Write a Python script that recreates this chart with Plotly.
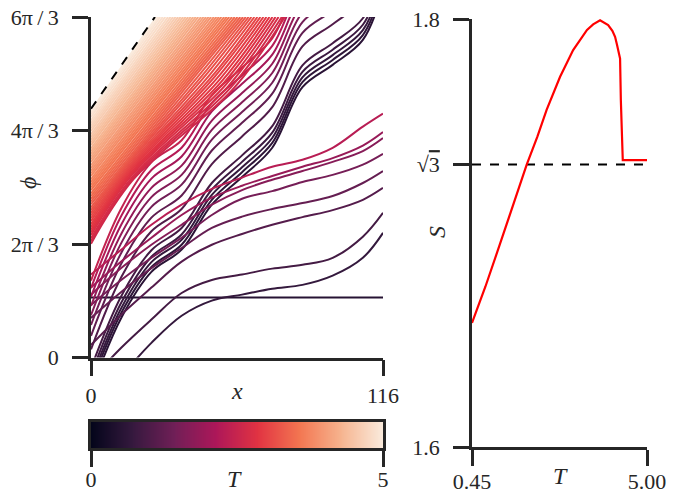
import numpy as np
import plotly.graph_objects as go
from plotly.colors import sample_colorscale

PI = np.pi
TWO_PI = 2 * PI

# ---------------- data ----------------
# seaborn "rocket" colormap stops
rocket = [[0.0, '#03051A'], [1/7, '#35193E'], [2/7, '#701F57'], [3/7, '#AD1759'],
          [4/7, '#E13342'], [5/7, '#F37651'], [6/7, '#F6B48F'], [1.0, '#FAEBDD']]
T_MIN, T_MAX = 0.0, 5.0

# shared x control grid for the curved trajectories
x_grid = [0, 12, 24, 36, 48, 60, 72, 84, 96, 108, 116]

# wavy trajectories that climb through the top of the panel
wavy_T = [0.55, 0.62, 0.70, 0.80, 0.90, 1.05, 1.25, 1.45, 1.65, 1.85, 2.05, 2.25, 2.45]
wavy_phi = [
    [-0.60, 0.73, 1.58, 1.99, 2.82, 3.33, 3.87, 4.99, 5.40, 5.86, 6.78],
    [-0.50, 0.82, 1.67, 2.08, 2.91, 3.42, 3.96, 5.08, 5.49, 5.95, 6.87],
    [-0.42, 0.91, 1.76, 2.17, 3.00, 3.51, 4.05, 5.17, 5.58, 6.04, 6.96],
    [-0.32, 1.01, 1.86, 2.27, 3.10, 3.61, 4.15, 5.27, 5.68, 6.14, 7.06],
    [-0.20, 1.13, 1.98, 2.39, 3.22, 3.73, 4.27, 5.39, 5.80, 6.26, 7.18],
    [0.15, 1.48, 2.33, 2.74, 3.57, 4.08, 4.62, 5.74, 6.15, 6.61, 7.53],
    [0.40, 1.73, 2.58, 2.99, 3.82, 4.33, 4.87, 5.99, 6.40, 6.86, 7.78],
    [0.60, 1.93, 2.78, 3.19, 4.02, 4.53, 5.07, 6.19, 6.60, 7.06, 7.98],
    [0.78, 2.11, 2.96, 3.37, 4.20, 4.71, 5.25, 6.37, 6.78, 7.24, 8.16],
    [0.95, 2.28, 3.13, 3.54, 4.37, 4.88, 5.42, 6.54, 6.95, 7.41, 8.33],
    [1.12, 2.45, 3.30, 3.71, 4.54, 5.05, 5.59, 6.71, 7.12, 7.58, 8.50],
    [1.28, 2.61, 3.46, 3.87, 4.70, 5.21, 5.75, 6.87, 7.28, 7.74, 8.66],
    [1.42, 2.75, 3.60, 4.01, 4.84, 5.35, 5.89, 7.01, 7.42, 7.88, 8.80],
]

# trajectories that level off and leave through the right edge
plateau_T = [0.70, 0.90, 1.10, 1.30, 1.50, 1.70, 1.90, 2.30]
plateau_phi = [
    [-0.95, -0.34, 0.27, 0.77, 1.05, 1.16, 1.27, 1.34, 1.51, 1.84, 2.30],
    [-0.41, 0.18, 0.70, 1.19, 1.43, 1.53, 1.64, 1.71, 1.84, 2.23, 2.67],
    [0.23, 0.79, 1.29, 1.77, 2.08, 2.28, 2.45, 2.59, 2.72, 2.91, 3.13],
    [0.73, 1.21, 1.65, 2.02, 2.39, 2.60, 2.74, 2.85, 2.98, 3.22, 3.44],
    [0.97, 1.43, 1.84, 2.21, 2.63, 2.93, 3.07, 3.24, 3.37, 3.56, 3.76],
    [1.16, 1.65, 2.08, 2.45, 2.82, 3.09, 3.28, 3.44, 3.61, 3.81, 4.05],
    [1.29, 1.77, 2.21, 2.63, 2.95, 3.17, 3.35, 3.52, 3.68, 3.91, 4.16],
    [1.53, 1.99, 2.45, 2.82, 3.11, 3.32, 3.52, 3.65, 3.87, 4.26, 4.50],
]

# constant trajectory
flat_T = 0.50
flat_phi = 1.107

# lower part of the dense fan: gently wavy (start, two knees, exit at the top)
lowband_T = [2.60, 2.65, 2.70, 2.75, 2.80, 2.85, 2.90, 2.95, 3.00, 3.05, 3.10, 3.15, 3.20, 3.25]
lowband_phi0 = [2.10, 2.15, 2.20, 2.26, 2.31, 2.36, 2.41, 2.46, 2.52, 2.57, 2.62, 2.67, 2.72, 2.77]
lowband_k1x = [16.9, 16.7, 16.4, 16.1, 15.9, 15.6, 15.3, 15.1, 14.8, 14.5, 14.3, 14.0, 13.8, 13.5]
lowband_k1phi = [3.29, 3.31, 3.33, 3.36, 3.38, 3.40, 3.42, 3.44, 3.46, 3.48, 3.50, 3.52, 3.54, 3.56]
lowband_k2x = [56.2, 55.3, 54.4, 53.5, 52.6, 51.8, 50.9, 50.0, 49.1, 48.3, 47.4, 46.5, 45.7, 44.9]
lowband_k2phi = [4.94, 4.97, 5.00, 5.03, 5.06, 5.09, 5.12, 5.15, 5.18, 5.20, 5.23, 5.26, 5.29, 5.32]
lowband_xtop = [77.0, 75.8, 74.5, 73.3, 72.1, 70.9, 69.7, 68.5, 67.3, 66.1, 64.9, 63.7, 62.6, 61.5]

# upper part of the dense fan: nearly straight
band_T = [3.30, 3.35, 3.40, 3.45, 3.50, 3.55,
          3.60, 3.65, 3.70, 3.75, 3.80, 3.85, 3.90, 3.95, 4.00, 4.05,
          4.10, 4.15, 4.20, 4.25, 4.30, 4.35, 4.40, 4.45, 4.50, 4.55,
          4.60, 4.65, 4.70, 4.75, 4.80, 4.85, 4.90, 4.95, 5.00]
band_phi0 = [2.83, 2.88, 2.93, 2.98, 3.03, 3.09,
             3.14, 3.19, 3.24, 3.29, 3.35, 3.40, 3.45, 3.50, 3.55, 3.61,
             3.66, 3.71, 3.76, 3.81, 3.86, 3.92, 3.97, 4.02, 4.07, 4.12,
             4.18, 4.23, 4.28, 4.33, 4.38, 4.44, 4.49, 4.52, 4.55]
band_xtop = [60.4, 59.3, 58.2, 57.1, 56.0, 54.9,
             53.9, 52.9, 51.8, 50.8, 49.8, 48.8, 47.7, 46.7, 45.7, 44.7,
             43.7, 42.6, 41.6, 40.6, 39.6, 38.6, 37.6, 36.6, 35.6, 34.6,
             33.6, 32.6, 31.6, 30.6, 29.5, 28.5, 27.5, 26.8, 26.0]

# dashed bound
dash_x = [0, 25.4]
dash_phi = [4.59, TWO_PI]

# right panel: S(T)
S_T = [0.45, 0.80, 1.18, 1.50, 1.87, 2.15, 2.39, 2.74, 3.08, 3.44, 3.60, 3.78,
       3.99, 4.10, 4.17, 4.22, 4.27, 4.30, 4.32, 4.37, 5.00]
S_val = [1.658, 1.675, 1.695, 1.712, 1.7318, 1.745, 1.7575, 1.773, 1.7855, 1.7949, 1.7975, 1.7994,
         1.7972, 1.7945, 1.7917, 1.788, 1.7832, 1.7815, 1.762, 1.7341, 1.7341]
S_ref = np.sqrt(3)

# colorbar ticks
cbar_ticks = [0, 5]

# ---------------- styling ----------------
W, H = 681, 493
FONT = 'Liberation Serif'
INK = '#262626'
TICK_FONT = dict(family=FONT, size=22, color=INK)
def px_x(p): return p / W
def px_y(p): return (H - p) / H

def tcolor(t):
    return sample_colorscale(rocket, [(t - T_MIN) / (T_MAX - T_MIN)])[0]

fig = go.Figure()

lines = []
for t, ph in zip(wavy_T, wavy_phi):
    lines.append((t, x_grid, ph))
for t, ph in zip(plateau_T, plateau_phi):
    lines.append((t, x_grid, ph))
lines.append((flat_T, [0, 116], [flat_phi, flat_phi]))
for t, p0, x1, p1, x2, p2, xt in zip(lowband_T, lowband_phi0, lowband_k1x, lowband_k1phi,
                                     lowband_k2x, lowband_k2phi, lowband_xtop):
    lines.append((t, [0, x1, x2, xt], [p0, p1, p2, TWO_PI]))
for t, p0, xt in zip(band_T, band_phi0, band_xtop):
    lines.append((t, [0, xt], [p0, TWO_PI]))
lines.sort(key=lambda r: r[0])

for t, xs, ys in lines:
    fig.add_trace(go.Scatter(x=xs, y=ys, mode='lines',
                             line=dict(color=tcolor(t), width=2, shape='spline', smoothing=1.0),
                             xaxis='x', yaxis='y', showlegend=False, hoverinfo='skip'))

fig.add_trace(go.Scatter(x=dash_x, y=dash_phi, mode='lines',
                         line=dict(color='black', width=2, dash='dash'),
                         xaxis='x', yaxis='y', showlegend=False, hoverinfo='skip'))

# colour bar drawn as a gradient strip on its own axes
grad = np.linspace(T_MIN, T_MAX, 300)
fig.add_trace(go.Heatmap(z=[grad], x=grad, y=[0], colorscale=rocket, zmin=T_MIN, zmax=T_MAX,
                         showscale=False, xaxis='x3', yaxis='y3', hoverinfo='skip'))

# right panel
fig.add_trace(go.Scatter(x=[0.45, 5.0], y=[S_ref, S_ref], mode='lines',
                         line=dict(color='black', width=2, dash='dash'),
                         xaxis='x2', yaxis='y2', showlegend=False, hoverinfo='skip'))
fig.add_trace(go.Scatter(x=S_T, y=S_val, mode='lines',
                         line=dict(color='#FF0000', width=2.2),
                         xaxis='x2', yaxis='y2', showlegend=False, hoverinfo='skip'))

axis_common = dict(showline=True, linewidth=2.5, linecolor=INK, ticks='outside', ticklen=16,
                   tickwidth=2.5, tickcolor=INK, showgrid=False, zeroline=False,
                   tickfont=TICK_FONT, automargin=False)

fig.update_layout(
    width=W, height=H, margin=dict(l=0, r=0, t=0, b=0, autoexpand=False),
    paper_bgcolor='white', plot_bgcolor='white',
    xaxis=dict(domain=[px_x(91), px_x(383)], range=[0, 116], tickvals=[0, 116],
               ticktext=['0', '116'], anchor='y', ticklabelstandoff=0, **axis_common),
    yaxis=dict(domain=[px_y(357.5), px_y(17)], range=[0, TWO_PI],
               tickvals=[0, 2 * PI / 3, 4 * PI / 3, TWO_PI],
               ticktext=['0', '2π\u2009/\u20093', '4π\u2009/\u20093', '6π\u2009/\u20093'],
               anchor='x', ticklabelstandoff=9, **axis_common),
    xaxis2=dict(domain=[px_x(472), px_x(647)], range=[0.45, 5.0], tickvals=[0.45, 5.0],
                ticktext=['0.45', '5.00'], anchor='y2', ticklabelstandoff=-3, **axis_common),
    yaxis2=dict(domain=[px_y(447), px_y(19)], range=[1.6, 1.8], tickvals=[1.6, S_ref, 1.8],
                ticktext=['1.6', "√<span style='text-decoration:overline'>3</span>", '1.8'],
                anchor='x2', ticklabelstandoff=9, **axis_common),
    xaxis3=dict(domain=[px_x(91), px_x(383)], range=[T_MIN, T_MAX], tickvals=cbar_ticks,
                ticktext=[str(v) for v in cbar_ticks], anchor='y3', mirror=True,
                ticklabelstandoff=-6, **axis_common),
    yaxis3=dict(domain=[px_y(448), px_y(422)], range=[-0.5, 0.5], anchor='x3', showline=True,
                mirror=True, linewidth=2.5, linecolor=INK, ticks='', showticklabels=False,
                showgrid=False, zeroline=False),
)

title_font = dict(family=FONT, size=24, color=INK)
annots = [
    dict(text='<i>x</i>', x=px_x(237), y=px_y(391)),
    dict(text='<i>T</i>', x=px_x(234), y=px_y(479)),
    dict(text='<i>T</i>', x=px_x(560), y=px_y(476)),
    dict(text='<i>S</i>', x=px_x(437), y=px_y(232), textangle=-90),
    dict(text='<i>ϕ</i>', x=px_x(28), y=px_y(183), textangle=-90),
]
for a in annots:
    fig.add_annotation(xref='paper', yref='paper', showarrow=False, font=title_font,
                       xanchor='center', yanchor='middle', **a)

fig.write_html('out.html', config={'displayModeBar': False},
               post_script="document.body.style.margin='0';document.body.style.overflow='hidden';")
